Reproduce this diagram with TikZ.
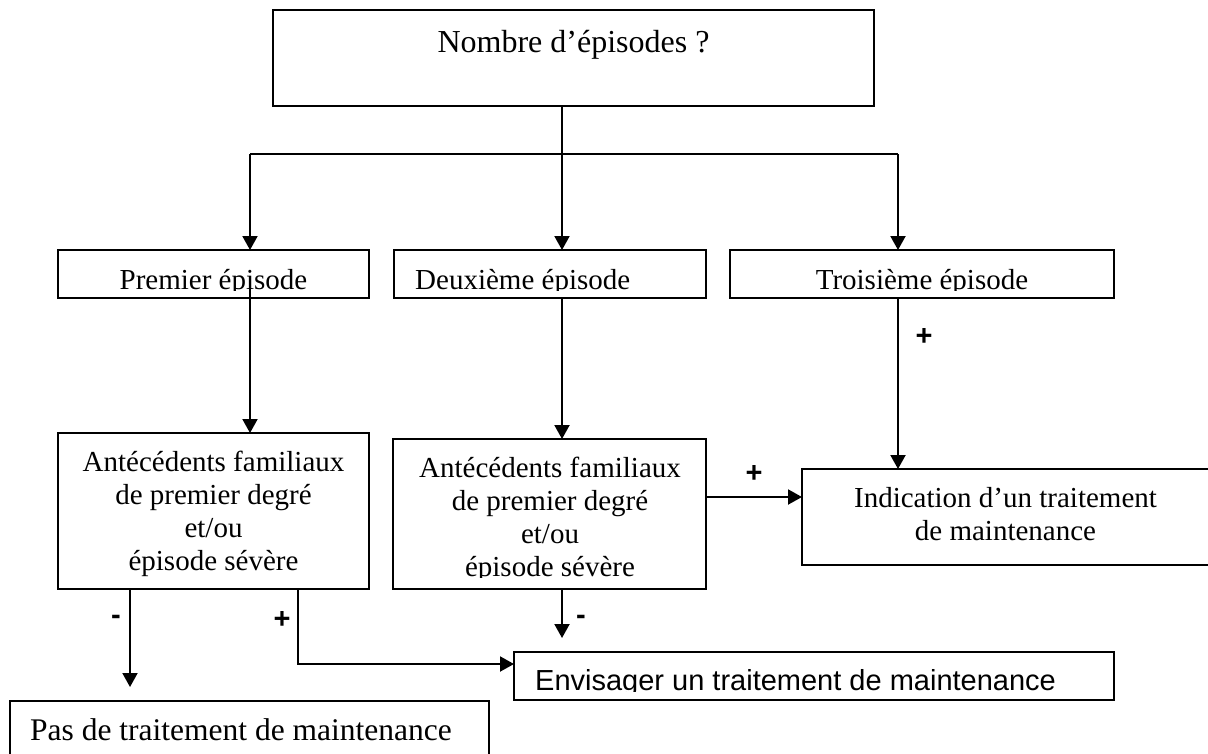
\documentclass[tikz,border=0pt]{standalone}
\usepackage{fontspec}
\setmainfont{Liberation Serif}
\newfontfamily\arialfont{Liberation Sans}
\usetikzlibrary{arrows.meta}
\newcommand\stackc[1]{\vtop{\baselineskip=33pt\lineskiplimit=-100pt\lineskip=0pt\halign{\hfil##\hfil\cr#1\crcr}}}
\begin{document}
\begin{tikzpicture}[x=1pt,y=-1pt,
  box/.style={draw, line width=2pt, inner sep=0pt, outer sep=0pt},
  ln/.style={line width=2pt},
  arr/.style={ln, -{Triangle[length=14pt,width=15pt]}},
  txt/.style={inner sep=0pt, font=\fontsize{29}{33}\selectfont},
  sg/.style={inner sep=0pt, font=\arialfont\bfseries\fontsize{29}{33}\selectfont}]
\useasboundingbox (0,0) rectangle (1208,753);
\fill[white] (0,0) rectangle (1208,753);

% top
\node[box, minimum width=601pt, minimum height=96pt] (top) at (573.5,58) {};
\node[txt, anchor=base, font=\fontsize{32}{36}\selectfont] (ttop) at (573.5,52) {Nombre d’épisodes ?};

% row 2
\node[box, minimum width=311pt, minimum height=48pt] (prem) at (213.5,274) {};
\node[box, minimum width=312pt, minimum height=48pt] (deux) at (550,274) {};
\node[box, minimum width=384pt, minimum height=48pt] (trois) at (922,274) {};
\begin{scope}
  \clip (58,250) rectangle (1114,290);
  \node[txt, anchor=base] (tprem) at (213.5,289) {Premier épisode};
  \node[txt, anchor=base west] (tdeux) at (415,289) {Deuxième épisode};
  \node[txt, anchor=base] (ttrois) at (922,289) {Troisième épisode};
\end{scope}

% row 3
\node[box, minimum width=311pt, minimum height=156pt] (ant1) at (213.5,511) {};
\node[txt, anchor=base] (tant1) at (213.5,471) {\stackc{Antécédents familiaux\cr de premier degré\cr et/ou\cr épisode sévère}};
\node[box, minimum width=313pt, minimum height=150pt] (ant2) at (549.5,514) {};
\begin{scope}
  \clip (393,439) rectangle (706,577);
  \node[txt, anchor=base] (tant2) at (550,477) {\stackc{Antécédents familiaux\cr de premier degré\cr et/ou\cr épisode sévère}};
\end{scope}
\node[box, minimum width=410pt, minimum height=96pt] (ind) at (1007,517) {};
\node[txt, anchor=base] (tind) at (1005.5,507) {\stackc{Indication d’un traitement\cr de maintenance}};

% bottom
\node[box, minimum width=600pt, minimum height=48pt] (env) at (814,676) {};
\begin{scope}
  \clip (514,652) rectangle (1114,691);
  \node[txt, anchor=base west, font=\arialfont\fontsize{29}{33}\selectfont] (tenv) at (535,690) {Envisager un traitement de maintenance};
\end{scope}
\node[box, minimum width=479pt, minimum height=59pt] (pas) at (249.5,730.5) {};
\node[txt, anchor=base west, font=\fontsize{31.5}{36}\selectfont] (tpas) at (30,740) {Pas de traitement de maintenance};

% junction coordinates
\coordinate (jL) at (250,154);
\coordinate (jM) at (562,154);
\coordinate (jR) at (898,154);
\coordinate (mL) at (130,0);
\coordinate (pL) at (298,0);
\coordinate (h2) at (0,497);

% connectors
\draw[ln] (top.south -| jM) -- (jM);
\draw[ln] (jL) -- (jR);
\draw[arr] (jL) -- (prem.north -| jL);
\draw[arr] (jM) -- (deux.north -| jM);
\draw[arr] (jR) -- (trois.north -| jR);
\draw[arr] ([yshift=10pt]prem.south -| jL) -- (ant1.north -| jL);
\draw[arr] (deux.south -| jM) -- (ant2.north -| jM);
\draw[arr] (trois.south -| jR) -- (ind.north -| jR);
\draw[arr] (ant2.east |- h2) -- (ind.west |- h2);
\draw[arr, shorten >=14pt] (ant1.south -| mL) -- (pas.north -| mL);
\draw[arr] (ant1.south -| pL) |- ([yshift=12pt]env.west);
\draw[arr, shorten >=14pt] (ant2.south -| jM) -- (env.north -| jM);

% signs
\node[sg] (s1) at (924,337) {+};
\node[sg] (s2) at (754,474) {+};
\node[sg] (s3) at (116,620) {-};
\node[sg] (s4) at (282,620) {+};
\node[sg] (s5) at (581,620) {-};
\end{tikzpicture}
\end{document}
